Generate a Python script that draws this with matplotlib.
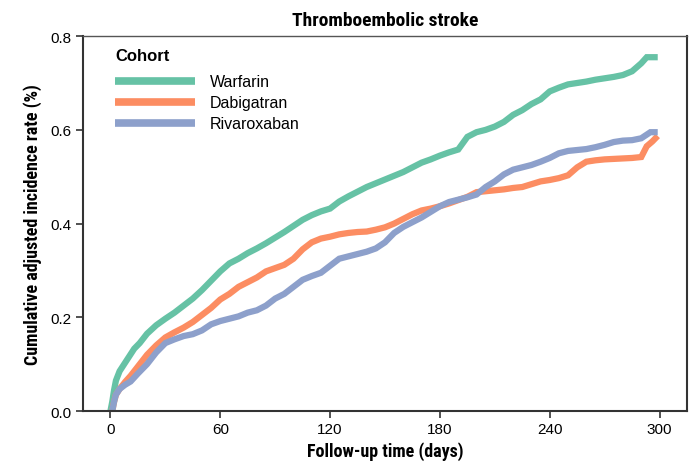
import numpy as np
import matplotlib
matplotlib.use("Agg")
import matplotlib.pyplot as plt
from matplotlib import font_manager as fm

# dane (dni, skumulowana częstość %)
cohorts = ["Warfarin", "Dabigatran", "Rivaroxaban"]
colors = ["#66c2a5", "#fc8d62", "#8da0cb"]

warf_days = [0, 1, 2, 3, 5, 7, 10, 13, 16, 20, 25, 30, 35, 40, 45, 50, 55, 60, 65, 70,
             75, 80, 85, 90, 95, 100, 105, 110, 115, 120, 125, 130, 135, 140, 145, 150,
             155, 160, 165, 170, 175, 180, 185, 190, 195, 200, 205, 210, 215, 220, 225,
             230, 235, 240, 245, 250, 255, 260, 265, 270, 275, 280, 285, 290, 293, 299]
warf_vals = [0.0, 0.02, 0.045, 0.065, 0.085, 0.097, 0.115, 0.133, 0.145, 0.165, 0.183,
             0.197, 0.21, 0.225, 0.24, 0.258, 0.278, 0.298, 0.315, 0.325, 0.337, 0.347,
             0.358, 0.37, 0.382, 0.395, 0.408, 0.418, 0.426, 0.432, 0.447, 0.458, 0.468,
             0.478, 0.486, 0.494, 0.502, 0.51, 0.52, 0.53, 0.537, 0.545, 0.552, 0.558,
             0.585, 0.595, 0.6, 0.607, 0.617, 0.632, 0.642, 0.655, 0.665, 0.682, 0.69,
             0.697, 0.7, 0.703, 0.707, 0.71, 0.713, 0.717, 0.725, 0.742, 0.755, 0.755]

dabi_days = [0, 1, 2, 3, 5, 8, 11, 15, 20, 25, 30, 35, 40, 45, 50, 55, 60, 65, 70, 75,
             80, 85, 90, 95, 100, 105, 110, 115, 120, 125, 130, 135, 140, 145, 150, 155,
             160, 165, 170, 175, 180, 185, 190, 195, 200, 205, 210, 215, 220, 225, 230,
             235, 240, 245, 250, 255, 260, 265, 270, 275, 280, 285, 290, 293, 296, 299]
dabi_vals = [0.0, 0.0, 0.02, 0.035, 0.047, 0.062, 0.075, 0.095, 0.12, 0.14, 0.157, 0.168,
             0.178, 0.19, 0.205, 0.22, 0.238, 0.25, 0.265, 0.275, 0.285, 0.298, 0.305,
             0.312, 0.325, 0.345, 0.36, 0.368, 0.372, 0.377, 0.38, 0.382, 0.383, 0.387,
             0.392, 0.4, 0.41, 0.42, 0.428, 0.432, 0.437, 0.443, 0.45, 0.457, 0.467,
             0.469, 0.471, 0.473, 0.476, 0.478, 0.484, 0.49, 0.493, 0.497, 0.503, 0.52,
             0.532, 0.535, 0.537, 0.538, 0.539, 0.54, 0.542, 0.565, 0.575, 0.587]

riva_days = [0, 1, 2, 3, 5, 8, 11, 15, 20, 25, 30, 35, 40, 45, 50, 55, 60, 65, 70, 75,
             80, 85, 90, 95, 100, 105, 110, 115, 120, 125, 130, 135, 140, 145, 150, 155,
             160, 165, 170, 175, 180, 185, 190, 195, 200, 205, 210, 215, 220, 225, 230,
             235, 240, 245, 250, 255, 260, 265, 270, 275, 280, 285, 290, 295, 299]
riva_vals = [0.0, 0.0, 0.02, 0.035, 0.047, 0.056, 0.063, 0.08, 0.1, 0.125, 0.145, 0.153,
             0.16, 0.164, 0.172, 0.185, 0.192, 0.197, 0.202, 0.21, 0.215, 0.225, 0.24,
             0.25, 0.265, 0.28, 0.288, 0.295, 0.31, 0.325, 0.33, 0.335, 0.34, 0.347,
             0.36, 0.38, 0.393, 0.403, 0.413, 0.425, 0.437, 0.446, 0.451, 0.456, 0.462,
             0.478, 0.49, 0.505, 0.515, 0.52, 0.525, 0.532, 0.54, 0.55, 0.555, 0.557,
             0.559, 0.563, 0.568, 0.574, 0.577, 0.578, 0.582, 0.595, 0.595]

x_ticks = [0, 60, 120, 180, 240, 300]
y_ticks = [0.0, 0.2, 0.4, 0.6, 0.8]

# wąska czcionka do tytułów, jeśli jest
have = set(f.name for f in fm.fontManager.ttflist)
cond = [f for f in ["Roboto Condensed", "Archivo Narrow", "PT Sans Narrow",
                    "Liberation Sans Narrow", "Liberation Sans"] if f in have]
cond = cond[:1] + ["DejaVu Sans"]
plt.rcParams["font.family"] = ["Liberation Sans", "DejaVu Sans"]

fig = plt.figure(figsize=(6.95, 4.64), dpi=100)
ax = fig.add_axes([0.1194, 0.112, 0.8691, 0.808])

series = [(warf_days, warf_vals), (dabi_days, dabi_vals), (riva_days, riva_vals)]
for (d, v), name, c in zip(series, cohorts, colors):
    ax.plot(d, v, color=c, lw=4.5, label=name, solid_capstyle="butt",
            solid_joinstyle="miter")

ax.set_xlim(-15, 315)
ax.set_ylim(0, 0.8)
ax.set_xticks(x_ticks)
ax.set_yticks(y_ticks)
ax.set_yticklabels([f"{t:.1f}" for t in y_ticks])
ax.tick_params(axis="both", labelsize=11, length=5, width=1.2, color="#333333",
               labelcolor="black", pad=3)

for s in ["left", "bottom", "right"]:
    ax.spines[s].set_color("#333333")
    ax.spines[s].set_linewidth(1.5)
ax.spines["top"].set_color("#555555")
ax.spines["top"].set_linewidth(1.0)

ax.set_title("Thromboembolic stroke", fontsize=14, fontweight="bold",
             family=cond, pad=8)
ax.set_xlabel("Follow-up time (days)", fontsize=13, fontweight="bold",
              family=cond, labelpad=4)
ax.set_ylabel("Cumulative adjusted incidence rate (%)", fontsize=13,
              fontweight="bold", family=cond, labelpad=6)

leg = ax.legend(title="Cohort", loc="upper left", frameon=False, fontsize=11.5,
                handlelength=5.0, handletextpad=0.9, labelspacing=0.38,
                bbox_to_anchor=(0.03, 1.006), alignment="left")
leg.get_title().set_fontweight("bold")
leg.get_title().set_fontsize(12)
leg._legend_box.sep = 8
for ln in leg.get_lines():
    ln.set_linewidth(5.5)

fig.savefig("out.png", dpi=100)
